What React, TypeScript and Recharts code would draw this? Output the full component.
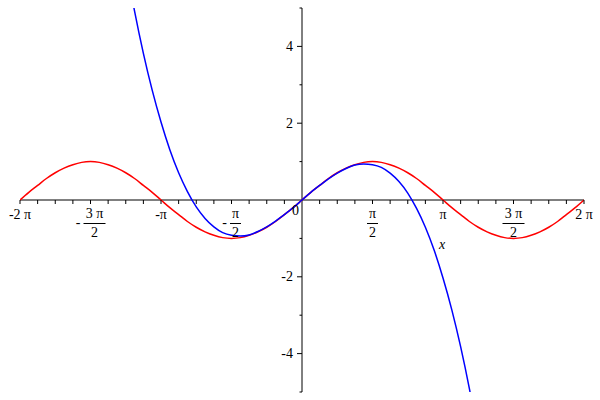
import { LineChart, Line, XAxis, YAxis, ReferenceLine, ReferenceDot } from 'recharts'

const PI = Math.PI

// x grid: steps of pi/16 from -2pi to 2pi
const xGrid = Array.from({ length: 65 }, (_, i) => ((i - 32) * PI) / 16)

// red curve (sin-like)
const redValues = [
  0, 0.2, 0.38, 0.56, 0.71, 0.83, 0.92, 0.98, 1, 0.98, 0.92, 0.83, 0.71, 0.56, 0.38, 0.2,
  0, -0.2, -0.38, -0.56, -0.71, -0.83, -0.92, -0.98, -1, -0.98, -0.92, -0.83, -0.71, -0.56, -0.38, -0.2,
  0, 0.2, 0.38, 0.56, 0.71, 0.83, 0.92, 0.98, 1, 0.98, 0.92, 0.83, 0.71, 0.56, 0.38, 0.2,
  0, -0.2, -0.38, -0.56, -0.71, -0.83, -0.92, -0.98, -1, -0.98, -0.92, -0.83, -0.71, -0.56, -0.38, -0.2,
  0,
]

// blue curve (cubic), only visible in the middle
const blueValues: (number | null)[] = [
  null, null, null, null, null, null, null, null, null, null, null, null,
  6.17, 4.92, 3.82, 2.86, 2.03, 1.31, 0.71, 0.22, -0.18, -0.48, -0.7, -0.85, -0.92, -0.94, -0.91, -0.82, -0.7, -0.55, -0.38, -0.2,
  0,
  0.2, 0.38, 0.55, 0.7, 0.82, 0.91, 0.94, 0.92, 0.85, 0.7, 0.48, 0.18, -0.22, -0.71, -1.31, -2.03, -2.86, -3.82, -4.92, -6.17,
  null, null, null, null, null, null, null, null, null, null, null, null,
]

// axis ticks
const xMinorTicks = Array.from({ length: 33 }, (_, i) => ((i - 16) * PI) / 8).filter((v) => Math.abs(v) > 1e-9)
const xLabelValues = [-2 * PI, (-3 * PI) / 2, -PI, -PI / 2, PI / 2, PI, (3 * PI) / 2, 2 * PI]
const xLabelSigns = ['-', '-', '-', '-', '', '', '', '']
const xLabelNums = ['2 π', '3 π', 'π', 'π', 'π', 'π', '3 π', '2 π']
const xLabelDens = ['', '2', '', '2', '2', '', '2', '']
const yTicks = [-5, -4, -3, -2, -1, 1, 2, 3, 4, 5]
const yLabelValues = [4, 2, -2, -4]

const data = xGrid.map((x, i) => ({ x, red: redValues[i], blue: blueValues[i] }))

const FONT = '"Liberation Serif", "Times New Roman", serif'

function XLabel({ cx, cy, sign, num, den }: any) {
  if (!den) {
    return (
      <text x={cx} y={cy + 19} textAnchor="middle" fontFamily={FONT} fontSize={14} fill="#000">
        {sign + num}
      </text>
    )
  }
  const w = num.length > 1 ? 22 : 11
  const fc = sign ? cx + 4 : cx
  return (
    <g>
      {sign && (
        <text x={fc - w / 2 - 3} y={cy + 27} textAnchor="end" fontFamily={FONT} fontSize={14} fill="#000">
          -
        </text>
      )}
      <text x={fc} y={cy + 18} textAnchor="middle" fontFamily={FONT} fontSize={14} fill="#000">
        {num}
      </text>
      <line x1={fc - w / 2} x2={fc + w / 2} y1={cy + 23.5} y2={cy + 23.5} stroke="#000" strokeWidth={1} />
      <text x={fc} y={cy + 37} textAnchor="middle" fontFamily={FONT} fontSize={14} fill="#000">
        {den}
      </text>
    </g>
  )
}

export default function App() {
  return (
    <div style={{ position: 'absolute', left: 0, top: 0, width: 600, height: 400, background: '#fff' }}>
      <LineChart width={600} height={400} data={data} margin={{ top: 8, right: 16, bottom: 8, left: 20 }}>
        <XAxis dataKey="x" type="number" domain={[-2 * PI, 2 * PI]} allowDataOverflow hide />
        <YAxis type="number" domain={[-5, 5]} allowDataOverflow hide />
        <ReferenceLine y={0} stroke="#000" strokeWidth={1} />
        <ReferenceLine x={0} stroke="#000" strokeWidth={1} />
        {xMinorTicks.map((v) => (
          <ReferenceDot
            key={'xt' + v}
            x={v}
            y={0}
            r={0}
            ifOverflow="visible"
            shape={(p: any) => <line x1={p.cx} x2={p.cx} y1={p.cy} y2={p.cy + 4} stroke="#000" strokeWidth={1} />}
          />
        ))}
        {yTicks.map((v) => (
          <ReferenceDot
            key={'yt' + v}
            x={0}
            y={v}
            r={0}
            ifOverflow="visible"
            shape={(p: any) => (
              <line x1={p.cx - (v % 2 === 0 ? 5 : 2.5)} x2={p.cx} y1={p.cy} y2={p.cy} stroke="#000" strokeWidth={1} />
            )}
          />
        ))}
        {xLabelValues.map((v, i) => (
          <ReferenceDot
            key={'xl' + i}
            x={v}
            y={0}
            r={0}
            ifOverflow="visible"
            shape={(p: any) => (
              <XLabel cx={p.cx} cy={p.cy} sign={xLabelSigns[i]} num={xLabelNums[i]} den={xLabelDens[i]} />
            )}
          />
        ))}
        {yLabelValues.map((v) => (
          <ReferenceDot
            key={'yl' + v}
            x={0}
            y={v}
            r={0}
            ifOverflow="visible"
            shape={(p: any) => (
              <text x={p.cx - 9} y={p.cy + 4.5} textAnchor="end" fontFamily={FONT} fontSize={14} fill="#000">
                {String(v)}
              </text>
            )}
          />
        ))}
        <ReferenceDot
          x={0}
          y={0}
          r={0}
          ifOverflow="visible"
          shape={(p: any) => (
            <text x={p.cx - 3} y={p.cy + 15} textAnchor="end" fontFamily={FONT} fontSize={14} fill="#000">
              0
            </text>
          )}
        />
        <ReferenceDot
          x={3.12}
          y={-1.18}
          r={0}
          ifOverflow="visible"
          shape={(p: any) => (
            <text x={p.cx} y={p.cy + 4} textAnchor="middle" fontFamily={FONT} fontStyle="italic" fontSize={14} fill="#000">
              x
            </text>
          )}
        />
        <Line
          type="monotone"
          dataKey="red"
          stroke="#ff0000"
          strokeWidth={1.5}
          dot={false}
          activeDot={false}
          isAnimationActive={false}
        />
        <Line
          type="monotone"
          dataKey="blue"
          stroke="#0000ff"
          strokeWidth={1.5}
          dot={false}
          activeDot={false}
          isAnimationActive={false}
        />
      </LineChart>
    </div>
  )
}
